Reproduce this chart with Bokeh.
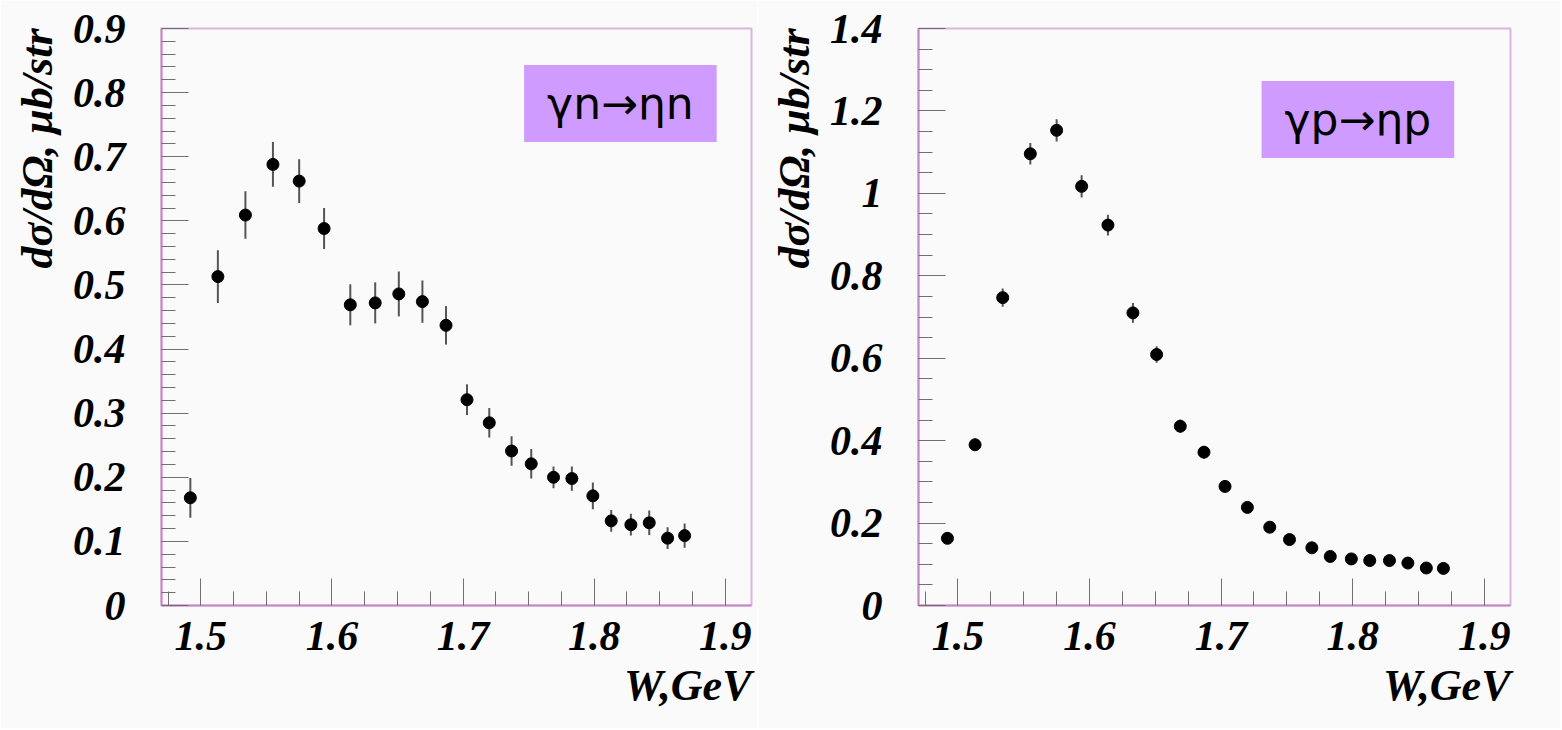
from bokeh.plotting import figure
from bokeh.models import (ColumnDataSource, Range1d, SingleIntervalTicker,
                          CustomJSTickFormatter, Label, Title)
from bokeh.layouts import row
from bokeh.embed import file_html
from bokeh.resources import INLINE

# ---------------- data ----------------
W_gev = [1.492, 1.513, 1.534, 1.555, 1.575, 1.594, 1.614, 1.633, 1.651, 1.669,
         1.687, 1.703, 1.720, 1.737, 1.752, 1.769, 1.783, 1.799, 1.813, 1.828,
         1.842, 1.856, 1.869]

neutron_xs = [0.168, 0.513, 0.609, 0.688, 0.662, 0.588, 0.469, 0.472, 0.486, 0.474,
              0.437, 0.321, 0.285, 0.241, 0.221, 0.200, 0.198, 0.171, 0.132, 0.126,
              0.129, 0.105, 0.109]
neutron_err = [0.031, 0.041, 0.037, 0.035, 0.034, 0.032, 0.032, 0.032, 0.035, 0.033,
               0.030, 0.024, 0.023, 0.023, 0.023, 0.017, 0.019, 0.021, 0.017, 0.017,
               0.019, 0.017, 0.019]

proton_xs = [0.163, 0.390, 0.747, 1.096, 1.153, 1.017, 0.923, 0.710, 0.609, 0.435,
             0.372, 0.289, 0.238, 0.190, 0.160, 0.140, 0.119, 0.113, 0.109, 0.109,
             0.103, 0.091, 0.090]
proton_err = [0.010, 0.015, 0.022, 0.026, 0.027, 0.027, 0.025, 0.024, 0.020, 0.016,
              0.015, 0.013, 0.012, 0.011, 0.010, 0.010, 0.010, 0.010, 0.010, 0.010,
              0.010, 0.010, 0.010]

x_ticks_interval = 0.1
y_title = "dσ/dΩ, μb/str"
x_title = "W,GeV"
left_tag = "γn→ηn"
right_tag = "γp→ηp"

BG = "#fafafa"
SERIF = "Liberation Serif"


def make_panel(xs, ys, errs, y_max, y_interval, y_minor, tag, tag_xy,
               width, border_left, border_right):
    p = figure(width=width, height=728, output_backend="svg", toolbar_location=None,
               x_range=Range1d(1.47, 1.92), y_range=Range1d(0, y_max + 1e-9),
               min_border_left=border_left, min_border_right=border_right,
               min_border_top=28, min_border_bottom=123,
               background_fill_color=BG, border_fill_color=BG)
    p.grid.visible = False
    p.outline_line_color = "#dcb4dc"
    p.outline_line_width = 2

    fmt = CustomJSTickFormatter(code="return String(Number(tick.toFixed(2)));")
    p.xaxis.ticker = SingleIntervalTicker(interval=x_ticks_interval, num_minor_ticks=4)
    p.yaxis.ticker = SingleIntervalTicker(interval=y_interval, num_minor_ticks=y_minor)
    for ax in (p.xaxis[0], p.yaxis[0]):
        ax.formatter = fmt
        ax.axis_line_color = "#c58ac5"
        ax.axis_line_width = 2
        ax.major_tick_line_color = "#707070"
        ax.minor_tick_line_color = "#707070"
        ax.major_tick_out = 0
        ax.minor_tick_out = 0
        ax.major_tick_in = 27
        ax.minor_tick_in = 14
        ax.major_label_text_font = SERIF
        ax.major_label_text_font_style = "bold italic"
        ax.major_label_text_font_size = "42px"
        ax.major_label_text_color = "black"
    p.yaxis.major_label_standoff = 36
    p.xaxis.major_label_standoff = 16

    lo = [y - e for y, e in zip(ys, errs)]
    hi = [y + e for y, e in zip(ys, errs)]
    src = ColumnDataSource(dict(x=xs, y=ys, lo=lo, hi=hi))
    p.segment(x0="x", y0="lo", x1="x", y1="hi", source=src,
              line_color="#555555", line_width=2)
    p.scatter(x="x", y="y", source=src, size=12, marker="circle",
              fill_color="black", line_color="black")

    p.add_layout(Title(text=y_title, align="right", text_font=SERIF,
                       text_font_style="bold italic", text_font_size="44px",
                       text_color="black", standoff=16), "left")
    p.add_layout(Title(text=x_title, align="right", text_font=SERIF,
                       text_font_style="bold italic", text_font_size="44px",
                       text_color="black", standoff=13), "below")
    p.add_layout(Label(x=tag_xy[0], y=tag_xy[1], text=tag,
                       text_align="center", text_baseline="middle",
                       text_font="DejaVu Sans", text_font_size="44px",
                       text_color="black", background_fill_color="#cf9bff",
                       padding=dict(left=23, right=23, top=13, bottom=13)))
    return p


p1 = make_panel(W_gev, neutron_xs, neutron_err, 0.9, 0.1, 5, left_tag,
                (1.82, 0.783), 757, 161, 6)
p2 = make_panel(W_gev, proton_xs, proton_err, 1.4, 0.2, 4, right_tag,
                (1.804, 1.179), 803, 161, 50)

layout = row(p1, p2)
open("out.html", "w").write(file_html(layout, INLINE))
